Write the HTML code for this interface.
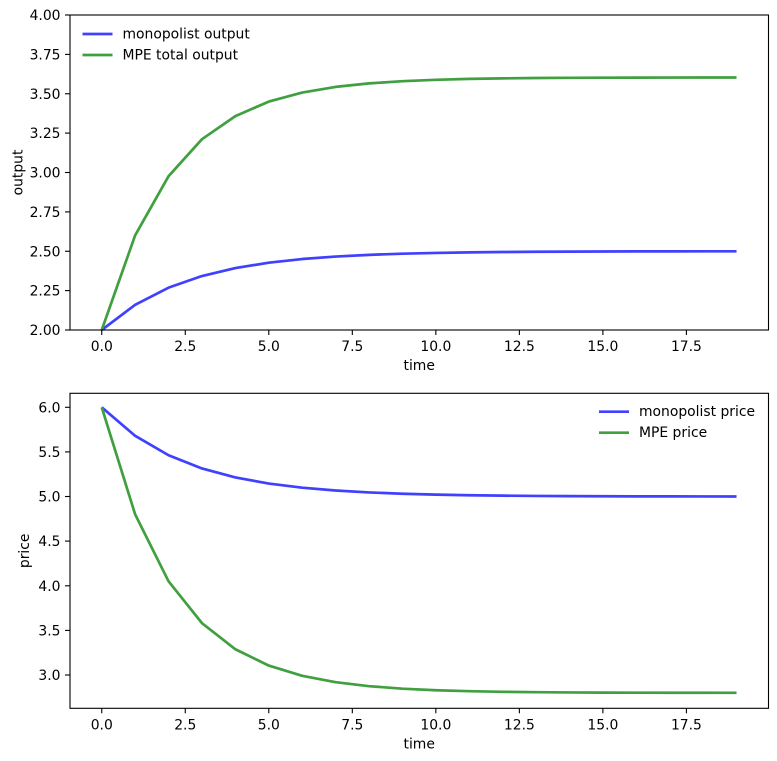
<!DOCTYPE html>
<html>
<head>
<meta charset="utf-8">
<style>
  html, body { margin: 0; padding: 0; background: #ffffff; }
  svg { display: block; }
  text { font-family: "DejaVu Sans", "Liberation Sans", sans-serif; font-size: 13.9px; fill: #000; }
</style>
</head>
<body>
<svg width="777" height="761" viewBox="0 0 777 761" xmlns="http://www.w3.org/2000/svg">
  <rect x="0" y="0" width="777" height="761" fill="#ffffff"/>

  <!-- ===== TOP AXES ===== -->
  <polyline fill="none" stroke="#4040ff" stroke-width="2.7" stroke-linejoin="round" stroke-linecap="butt"
    points="101.74,330 135.15,304.8 168.56,287.66 201.97,276.01 235.38,268.09 268.79,262.7 302.2,259.03 335.61,256.54 369.02,254.86 402.43,253.69 435.84,252.92 469.25,252.38 502.66,252.02 536.07,251.77 569.48,251.6 602.89,251.49 636.3,251.41 669.71,251.36 703.12,251.33 736.53,251.3"/>
  <polyline fill="none" stroke="#40a040" stroke-width="2.7" stroke-linejoin="round" stroke-linecap="butt"
    points="101.74,330 135.15,235.3 168.56,176.2 201.97,139.2 235.38,116.1 268.79,101.6 302.2,92.6 335.61,86.9 369.02,83.4 402.43,81.2 435.84,79.8 469.25,78.9 502.66,78.4 536.07,78.0 569.48,77.8 602.89,77.7 636.3,77.6 669.71,77.55 703.12,77.5 736.53,77.5"/>

  <rect x="70" y="15" width="698.5" height="315" fill="none" stroke="#000" stroke-width="1.1"/>

  <g stroke="#000" stroke-width="1.1">
    <line x1="65" y1="330" x2="70" y2="330"/>
    <line x1="65" y1="290.6" x2="70" y2="290.6"/>
    <line x1="65" y1="251.25" x2="70" y2="251.25"/>
    <line x1="65" y1="211.9" x2="70" y2="211.9"/>
    <line x1="65" y1="172.5" x2="70" y2="172.5"/>
    <line x1="65" y1="133.1" x2="70" y2="133.1"/>
    <line x1="65" y1="93.75" x2="70" y2="93.75"/>
    <line x1="65" y1="54.4" x2="70" y2="54.4"/>
    <line x1="65" y1="15" x2="70" y2="15"/>
  </g>
  <g text-anchor="end">
    <text x="60.5" y="335">2.00</text>
    <text x="60.5" y="295.6">2.25</text>
    <text x="60.5" y="256.25">2.50</text>
    <text x="60.5" y="216.9">2.75</text>
    <text x="60.5" y="177.5">3.00</text>
    <text x="60.5" y="138.1">3.25</text>
    <text x="60.5" y="98.75">3.50</text>
    <text x="60.5" y="59.4">3.75</text>
    <text x="60.5" y="20">4.00</text>
  </g>

  <g stroke="#000" stroke-width="1.1">
    <line x1="101.74" y1="330" x2="101.74" y2="335"/>
    <line x1="185.27" y1="330" x2="185.27" y2="335"/>
    <line x1="268.79" y1="330" x2="268.79" y2="335"/>
    <line x1="352.32" y1="330" x2="352.32" y2="335"/>
    <line x1="435.84" y1="330" x2="435.84" y2="335"/>
    <line x1="519.37" y1="330" x2="519.37" y2="335"/>
    <line x1="602.89" y1="330" x2="602.89" y2="335"/>
    <line x1="686.42" y1="330" x2="686.42" y2="335"/>
  </g>
  <g text-anchor="middle">
    <text x="101.74" y="351">0.0</text>
    <text x="185.27" y="351">2.5</text>
    <text x="268.79" y="351">5.0</text>
    <text x="352.32" y="351">7.5</text>
    <text x="435.84" y="351">10.0</text>
    <text x="519.37" y="351">12.5</text>
    <text x="602.89" y="351">15.0</text>
    <text x="686.42" y="351">17.5</text>
    <text x="419.2" y="370">time</text>
  </g>
  <text x="22.5" y="172.5" text-anchor="middle" transform="rotate(-90 22.5 172.5)">output</text>

  <line x1="82.5" y1="34" x2="112.5" y2="34" stroke="#4040ff" stroke-width="2.7"/>
  <line x1="82.5" y1="55" x2="112.5" y2="55" stroke="#40a040" stroke-width="2.7"/>
  <text x="122.5" y="38.5">monopolist output</text>
  <text x="122.5" y="59.5">MPE total output</text>

  <!-- ===== BOTTOM AXES ===== -->
  <polyline fill="none" stroke="#4040ff" stroke-width="2.7" stroke-linejoin="round"
    points="101.74,407.3 135.15,435.85 168.56,455.27 201.97,468.48 235.38,477.45 268.79,483.56 302.2,487.71 335.61,490.53 369.02,492.44 402.43,493.76 435.84,494.64 469.25,495.25 502.66,495.66 536.07,495.94 569.48,496.14 602.89,496.26 636.3,496.35 669.71,496.4 703.12,496.44 736.53,496.48"/>
  <polyline fill="none" stroke="#40a040" stroke-width="2.7" stroke-linejoin="round"
    points="101.74,407.3 135.15,514.38 168.56,581.3 201.97,623.13 235.38,649.26 268.79,665.6 302.2,675.81 335.61,682.2 369.02,686.18 402.43,688.68 435.84,690.23 469.25,691.21 502.66,691.82 536.07,692.19 569.48,692.44 602.89,692.59 636.3,692.67 669.71,692.75 703.12,692.78 736.53,692.8"/>

  <rect x="70" y="393.3" width="698.5" height="315" fill="none" stroke="#000" stroke-width="1.1"/>

  <g stroke="#000" stroke-width="1.1">
    <line x1="65" y1="675" x2="70" y2="675"/>
    <line x1="65" y1="630.4" x2="70" y2="630.4"/>
    <line x1="65" y1="585.8" x2="70" y2="585.8"/>
    <line x1="65" y1="541.1" x2="70" y2="541.1"/>
    <line x1="65" y1="496.5" x2="70" y2="496.5"/>
    <line x1="65" y1="451.9" x2="70" y2="451.9"/>
    <line x1="65" y1="407.3" x2="70" y2="407.3"/>
  </g>
  <g text-anchor="end">
    <text x="60.5" y="680">3.0</text>
    <text x="60.5" y="635.4">3.5</text>
    <text x="60.5" y="590.8">4.0</text>
    <text x="60.5" y="546.1">4.5</text>
    <text x="60.5" y="501.5">5.0</text>
    <text x="60.5" y="456.9">5.5</text>
    <text x="60.5" y="412.3">6.0</text>
  </g>

  <g stroke="#000" stroke-width="1.1">
    <line x1="101.74" y1="708.3" x2="101.74" y2="713.3"/>
    <line x1="185.27" y1="708.3" x2="185.27" y2="713.3"/>
    <line x1="268.79" y1="708.3" x2="268.79" y2="713.3"/>
    <line x1="352.32" y1="708.3" x2="352.32" y2="713.3"/>
    <line x1="435.84" y1="708.3" x2="435.84" y2="713.3"/>
    <line x1="519.37" y1="708.3" x2="519.37" y2="713.3"/>
    <line x1="602.89" y1="708.3" x2="602.89" y2="713.3"/>
    <line x1="686.42" y1="708.3" x2="686.42" y2="713.3"/>
  </g>
  <g text-anchor="middle">
    <text x="101.74" y="729.3">0.0</text>
    <text x="185.27" y="729.3">2.5</text>
    <text x="268.79" y="729.3">5.0</text>
    <text x="352.32" y="729.3">7.5</text>
    <text x="435.84" y="729.3">10.0</text>
    <text x="519.37" y="729.3">12.5</text>
    <text x="602.89" y="729.3">15.0</text>
    <text x="686.42" y="729.3">17.5</text>
    <text x="419.2" y="748.3">time</text>
  </g>
  <text x="29" y="550.8" text-anchor="middle" transform="rotate(-90 29 550.8)">price</text>

  <line x1="599" y1="411.7" x2="629" y2="411.7" stroke="#4040ff" stroke-width="2.7"/>
  <line x1="599" y1="432.7" x2="629" y2="432.7" stroke="#40a040" stroke-width="2.7"/>
  <text x="639" y="416.2">monopolist price</text>
  <text x="639" y="437.2">MPE price</text>
</svg>
</body>
</html>
